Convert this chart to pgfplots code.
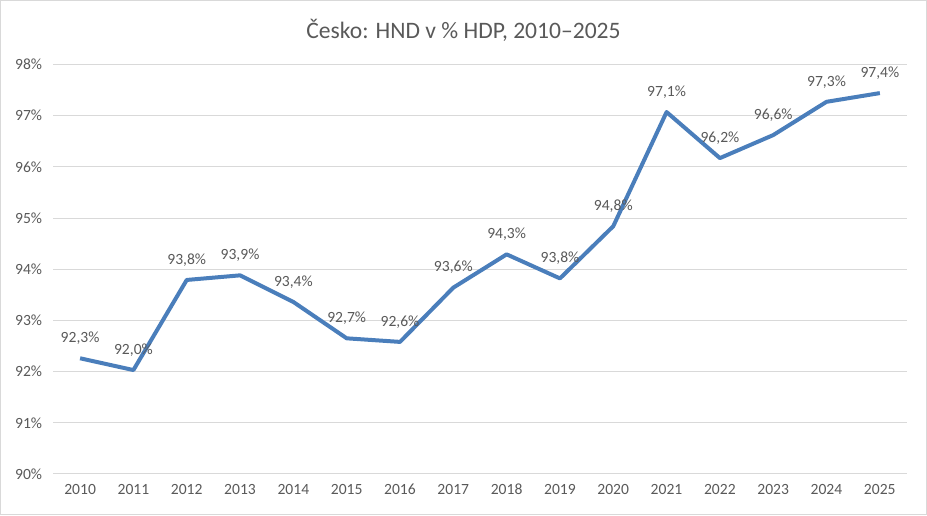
\documentclass[border=0pt]{standalone}
\usepackage{pgfplots}
\pgfplotsset{compat=1.18}
\usepackage{fontspec}
\setmainfont{Carlito}
\definecolor{txt}{HTML}{595959}
\definecolor{gridc}{HTML}{D9D9D9}
\definecolor{linec}{HTML}{4A7EBB}
\begin{document}
\begin{tikzpicture}
\begin{axis}[
  scale only axis,
  width=640.5pt, height=307.5pt,
  xmin=2009.5, xmax=2025.5,
  ymin=90, ymax=98,
  xtick={2010,...,2025},
  ytick={90,91,...,98},
  axis line style={draw=none},
  major tick length=0pt,
  xmajorgrids=false,
  ymajorgrids=true,
  major grid style={draw=gridc, line width=0.75pt},
  /pgf/number format/assume math mode=true,
  xticklabel style={font=\fontsize{11.7}{14}\selectfont, text=txt, /pgf/number format/1000 sep={}, yshift=-4pt},
  yticklabel style={font=\fontsize{11.7}{14}\selectfont, text=txt, xshift=-5pt},
  yticklabel={\pgfmathprintnumber[fixed,precision=0]{\tick}\%},
  clip=false,
  nodes near coords={\pgfmathprintnumber[fixed,fixed zerofill,precision=1,use comma]{\pgfplotspointmeta}\%},
  every node near coord/.style={anchor=center, yshift=15pt, font=\fontsize{11.7}{14}\selectfont, text=txt},
]
\addplot[linec, line width=3pt, mark=none, line join=round] coordinates {
(2010,92.26) (2011,92.03) (2012,93.79) (2013,93.88) (2014,93.36)
(2015,92.65) (2016,92.58) (2017,93.64) (2018,94.29) (2019,93.82)
(2020,94.84) (2021,97.07) (2022,96.17) (2023,96.62) (2024,97.27)
(2025,97.44)
};
\end{axis}
\draw[gridc, line width=0.75pt] ([xshift=-39.75pt,yshift=-30.75pt]current axis.south west) rectangle ([xshift=15pt,yshift=48pt]current axis.north east);
\node[font=\fontsize{17.7}{21}\selectfont, text=txt] at ([xshift=-12.4pt,yshift=25.5pt]current axis.north) {Česko: HND v \% HDP, 2010–2025};
\end{tikzpicture}
\end{document}
